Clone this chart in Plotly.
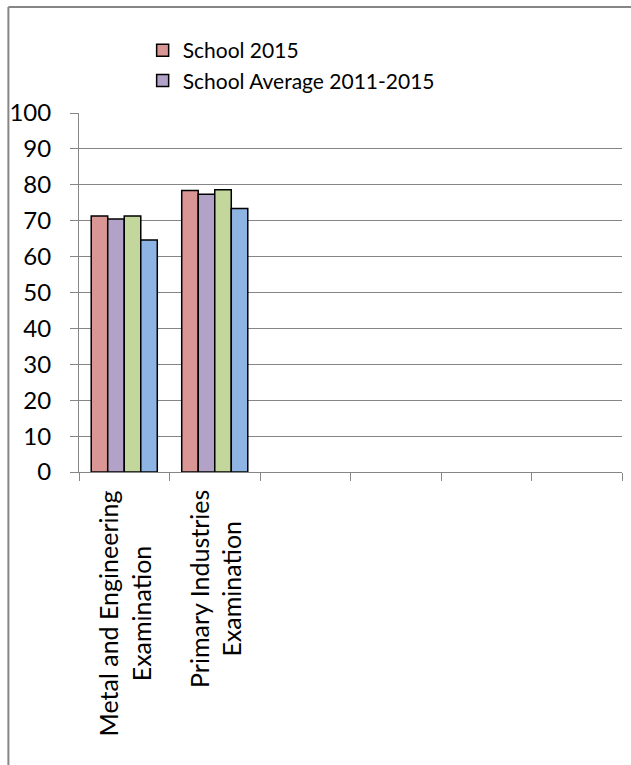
import plotly.graph_objects as go

# Category labels (two-line, rotated) and the number of slots on the axis
category_labels = ["Metal and Engineering<br>Examination",
                   "Primary Industries<br>Examination"]
n_slots = 6

# Series values
school_2015 = [71.3, 78.4]
school_avg_2011_2015 = [70.5, 77.4]
series_3 = [71.3, 78.6]
series_4 = [64.6, 73.4]

y_ticks = list(range(0, 101, 10))

FONT = "Lato"
GRID = "#868686"

x_pos = list(range(len(category_labels)))

series = [
    ("School 2015", school_2015, "#D99694", True),
    ("School Average 2011-2015", school_avg_2011_2015, "#B3A2C7", True),
    ("Series 3", series_3, "#C3D69B", False),
    ("Series 4", series_4, "#8EB4E3", False),
]

fig = go.Figure()
for name, vals, color, in_legend in series:
    fig.add_trace(go.Bar(
        x=x_pos, y=vals, name=name, showlegend=in_legend,
        marker=dict(color=color, line=dict(color="black", width=1.5)),
    ))

W, H = 631, 765
ml, mr, mt, mb = 76, 9, 113, 293
pw, ph = W - ml - mr, H - mt - mb


def px_x(p):
    return (p - ml) / pw


def px_y(p):
    return (H - mb - p) / ph


annotations = [
    dict(x=i, xref="x", y=-0.045, yref="paper", yanchor="top", xanchor="center",
         text=lab, textangle=-90, showarrow=False, align="center",
         font=dict(family=FONT, size=25, color="black"))
    for i, lab in enumerate(category_labels)
]

shapes = [
    # chart frame (top and left edges)
    dict(type="line", xref="paper", yref="paper",
         x0=px_x(5), x1=px_x(640), y0=px_y(7), y1=px_y(7),
         line=dict(color=GRID, width=2)),
    dict(type="line", xref="paper", yref="paper",
         x0=px_x(5), x1=px_x(5), y0=px_y(7), y1=px_y(780),
         line=dict(color=GRID, width=2)),
]

boundaries = [i - 0.5 for i in range(n_slots + 1)]

fig.update_layout(
    width=W, height=H,
    margin=dict(l=ml, r=mr, t=mt, b=mb, pad=0),
    paper_bgcolor="white", plot_bgcolor="white",
    barmode="group", bargap=0.27, bargroupgap=0,
    font=dict(family=FONT, color="black"),
    showlegend=True,
    legend=dict(x=px_x(140), y=px_y(30), xanchor="left", yanchor="top",
                font=dict(family=FONT, size=21, color="black"),
                bgcolor="rgba(0,0,0,0)", borderwidth=0, tracegroupgap=0),
    xaxis=dict(range=[-0.5, n_slots - 0.5], tickmode="array",
               tickvals=boundaries, ticktext=["" for _ in boundaries],
               ticks="outside", ticklen=8, tickcolor=GRID, tickwidth=1,
               showline=True, linecolor=GRID, linewidth=1,
               showgrid=False, zeroline=False, fixedrange=True),
    yaxis=dict(range=[0, 100], tickmode="array", tickvals=y_ticks,
               ticks="outside", ticklen=8, tickcolor=GRID, tickwidth=1,
               showline=True, linecolor=GRID, linewidth=1,
               showgrid=True, gridcolor=GRID, gridwidth=1,
               zeroline=False, ticklabelstandoff=14,
               tickfont=dict(family=FONT, size=24, color="black"),
               fixedrange=True),
    annotations=annotations,
    shapes=shapes,
)

fig.write_html("out.html")
